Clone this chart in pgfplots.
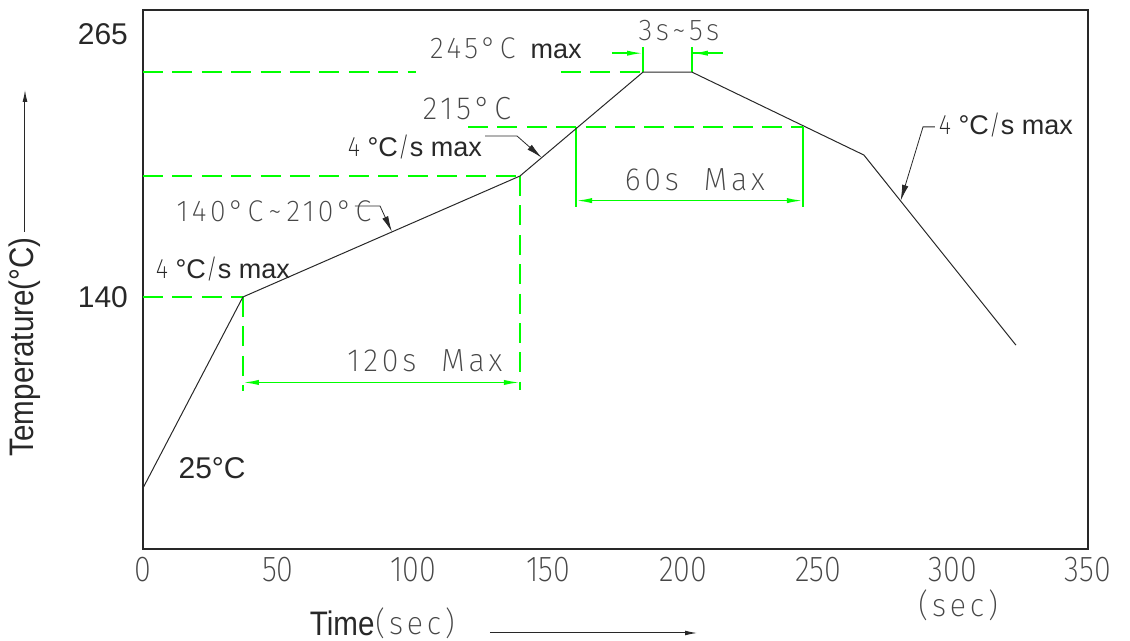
\documentclass[border=0pt]{standalone}
\usepackage{fontspec}
\setmainfont{Liberation Sans}
\newfontfamily\lab{Liberation Sans}[FakeStretch=0.87]
\newfontfamily\cad{Fira Sans ExtraLight}[FakeStretch=0.85]
\newfontfamily\cadw{Fira Sans ExtraLight}[FakeStretch=0.95, LetterSpace=12]
\usepackage{pgfplots}
\pgfplotsset{compat=1.18}
\usetikzlibrary{arrows.meta}

\definecolor{cadgreen}{RGB}{0,255,0}
\definecolor{ink}{RGB}{40,40,40}
\definecolor{cadgray}{RGB}{70,70,70}

% reflow profile, y values read in the drawn axis scale
\pgfplotstableread{
t    T
0      49.0
37.0   140.0
139.6  197.6
185.2  247.1
203.3  247.1
267.0  207.6
323.3  117.1
}\profile

\begin{document}
\begin{tikzpicture}[
    gdash/.style={cadgreen, line width=0.7pt, dash pattern=on 10pt off 4.7pt},
    gline/.style={cadgreen, line width=0.7pt},
    garrow/.style={cadgreen, line width=0.8pt, {Latex[length=8pt,width=2.6pt]}-{Latex[length=8pt,width=2.6pt]}},
    garrowr/.style={cadgreen, line width=0.8pt, -{Latex[length=8pt,width=2.6pt]}},
    leader/.style={ink, line width=0.4pt, -{Latex[length=8pt,width=3.2pt]}},
    cadtext/.style={font=\cadw\fontsize{16}{18}\selectfont, text=cadgray, inner sep=0pt},
    armtext/.style={font=\fontsize{13.5}{15}\selectfont, text=ink, inner sep=0pt},
]
\begin{axis}[
    scale only axis,
    width=472.5pt, height=269.5pt,
    xmin=0, xmax=350,
    ymin=20, ymax=276.67,
    clip=false,
    axis line style={ink, line width=0.6pt},
    xtick={0,50,...,350},
    xticklabels={0,50,100,150,200,250,300,350},
    ytick={140,265},
    yticklabels={140,265},
    major tick length=0pt,
    xticklabel style={font=\cad\fontsize{18}{20}\selectfont, text=cadgray, inner sep=4pt},
    yticklabel style={font=\fontsize{15}{17}\selectfont, text=ink, xshift=-4pt},
]
% invisible frame: keeps the page at the reference's proportions
\path (axis cs:-52.96,-23.81) rectangle (axis cs:365.56,281.43);

% guide lines
\draw[gdash] (axis cs:0,140) -- (axis cs:37.0,140);
\draw[gdash] (axis cs:0,197.6) -- (axis cs:139.6,197.6);
\draw[gdash] (axis cs:120.4,221.0) -- (axis cs:244.4,221.0);
\draw[gdash] (axis cs:0,247.1) -- (axis cs:101.1,247.1);
\draw[gdash] (axis cs:154.8,247.1) -- (axis cs:185.2,247.1);
\draw[gdash] (axis cs:37.0,140) -- (axis cs:37.0,95.2);
\draw[gdash] (axis cs:139.6,197.6) -- (axis cs:139.6,95.7);
\draw[gline] (axis cs:160.4,221.0) -- (axis cs:160.4,182.9);
\draw[gline] (axis cs:244.4,221.0) -- (axis cs:244.4,182.9);
\draw[gline] (axis cs:185.2,259.1) -- (axis cs:185.2,247.1);
\draw[gline] (axis cs:203.3,259.1) -- (axis cs:203.3,247.1);
\draw[gline] (axis cs:203.3,256.1) -- (axis cs:214.8,256.1);

% dimension arrows
\draw[garrow] (axis cs:37.0,99.3) -- (axis cs:139.6,99.3);
\draw[garrow] (axis cs:160.4,185.9) -- (axis cs:244.4,185.9);
\draw[garrowr] (axis cs:173.7,256.1) -- (axis cs:185.2,256.1);
\draw[garrowr] (axis cs:214.8,256.1) -- (axis cs:203.3,256.1);

\addplot[ink, line width=0.5pt, mark=none] table[x=t, y=T] {\profile};

% leaders
\draw[leader] (axis cs:126.7,216.7) -- (axis cs:138.5,216.7) -- (axis cs:147.7,206.3);
\draw[leader] (axis cs:78.5,183.3) -- (axis cs:87.8,183.3) -- (axis cs:92.2,171.0);
\draw[leader] (axis cs:293.3,221.0) -- (axis cs:288.9,221.0) -- (axis cs:280.6,185.8);

% annotations
\node[cadtext, font=\cadw\fontsize{15}{17}\selectfont] at (axis cs:198.5,266.7) {3s\textasciitilde5s};
\node[armtext] at (axis cs:134.4,258.6) {{\cadw\fontsize{15}{17}\selectfont\color{cadgray}245°C} \ max};
\node[cadtext] at (axis cs:120.0,229.5) {215°C};
\node[armtext] at (axis cs:100.7,211.4) {{\cad\fontsize{14}{15}\selectfont 4} °C{\cad /}s max};
\node[cadtext, font=\cadw\fontsize{15}{17}\selectfont] at (axis cs:48.5,181.0) {140°C\,\textasciitilde\,210°C};
\node[armtext] at (axis cs:29.6,153.3) {{\cad\fontsize{14}{15}\selectfont 4} °C{\cad /}s max};
\node[armtext] at (axis cs:319.6,221.9) {{\cad\fontsize{14}{15}\selectfont 4} °C{\cad /}s max};
\node[armtext, font=\fontsize{15}{17}\selectfont] at (axis cs:25.6,58.6) {25°C};
\node[cadtext] at (axis cs:104.4,109.5) {120s\ \ Max};
\node[cadtext] at (axis cs:204.4,195.7) {60s\ \ Max};

% axis titles
\node[cadtext, font=\cadw\fontsize{16}{18}\selectfont] at (axis cs:301.9,-6.7) {(sec)};
\node[anchor=east, inner sep=0pt, font=\lab\fontsize{17}{19}\selectfont, text=ink] at (axis cs:85.9,-15.2) {Time};
\node[anchor=west, inner sep=0pt, cadtext] at (axis cs:85.9,-15.2) {(sec)};
\draw[ink, line width=0.5pt, -{Latex[length=6pt,width=2.4pt]}] (axis cs:128.5,-20.0) -- (axis cs:205.2,-20.0);
\node[rotate=90, anchor=east, inner sep=0pt, font=\lab\fontsize{17}{19}\selectfont, text=ink] at (axis cs:-43.7,168.6) {Temperature(°C)};
\draw[ink, line width=0.5pt, -{Latex[length=6pt,width=2.4pt]}] (axis cs:-43.7,171.0) -- (axis cs:-43.7,238.6);
\end{axis}
\end{tikzpicture}
\end{document}
